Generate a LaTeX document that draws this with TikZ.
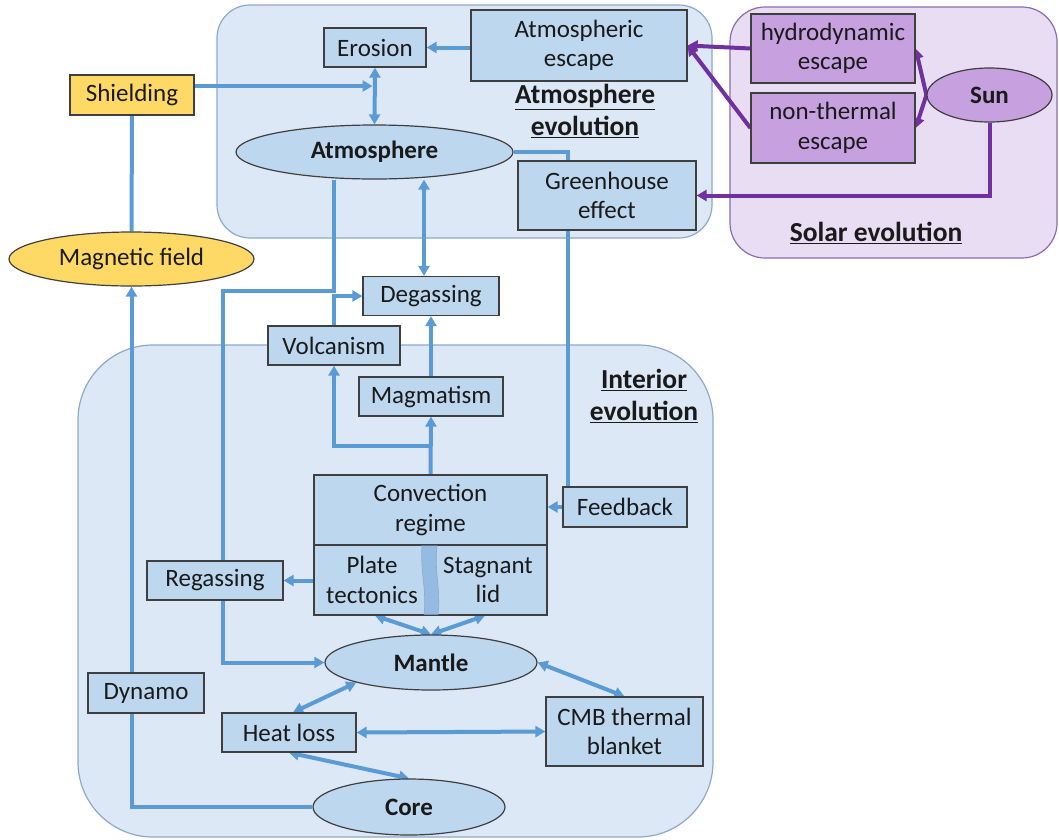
\documentclass[tikz,border=0pt]{standalone}
\usepackage{fontspec}
\setmainfont{Carlito}
\usetikzlibrary{arrows.meta,shapes.geometric,calc}
\pgfdeclarelayer{panel}
\pgfdeclarelayer{conn}
\pgfsetlayers{panel,conn,main}
\definecolor{panelfill}{HTML}{DCE8F5}
\definecolor{paneledge}{HTML}{8EA9C8}
\definecolor{nodefill}{HTML}{BDD7EE}
\definecolor{nodeedge}{HTML}{3F3F3F}
\definecolor{connblue}{HTML}{5B9BD5}
\definecolor{yelfill}{HTML}{FFD966}
\definecolor{solfill}{HTML}{E8DDF3}
\definecolor{soledge}{HTML}{8C6BB1}
\definecolor{purfill}{HTML}{C7A0E0}
\definecolor{purline}{HTML}{7030A0}
\definecolor{divfill}{HTML}{94BCE3}
\definecolor{txtcol}{HTML}{1A1A1A}
\begin{document}
\begin{tikzpicture}[x=1pt,y={(0pt,-1pt)},
  font=\fontsize{25}{29.5}\selectfont, text=txtcol,
  box/.style={draw=nodeedge, line width=1.2pt, fill=nodefill, rectangle, inner sep=0pt, align=center},
  oval/.style={draw=nodeedge, line width=1.2pt, fill=nodefill, ellipse, inner sep=0pt, font=\fontsize{25}{29.5}\selectfont\bfseries},
  ybox/.style={box, fill=yelfill},
  pbox/.style={box, fill=purfill},
  conn/.style={draw=connblue, line width=4pt},
  pconn/.style={draw=purline, line width=4pt},
  tip/.style={-{Triangle[length=10pt,width=11pt]}},
  dtip/.style={{Triangle[length=10pt,width=11pt]}-{Triangle[length=10pt,width=11pt]}},
  lbl/.style={inner sep=0pt, align=center, font=\fontsize{27.5}{32}\selectfont\bfseries},
  txt/.style={inner sep=0pt, align=center}
]
\useasboundingbox (0,0) rectangle (1059,839);

% panels
\begin{pgfonlayer}{panel}
\draw[fill=panelfill, draw=paneledge, line width=1.2pt, rounded corners=33pt] (217,5) rectangle (712,238);
\draw[fill=solfill, draw=soledge, line width=1.2pt, rounded corners=35pt] (730,7) rectangle (1057,258);
\draw[fill=panelfill, draw=paneledge, line width=1.2pt, rounded corners=75pt] (78,345) rectangle (713,837);
\end{pgfonlayer}

% nodes
\node[box, minimum width=102pt, minimum height=39pt] (eros) at (375,47.5) {Erosion};
\node[box, minimum width=216pt, minimum height=71pt] (atmesc) at (579,45.5) {Atmospheric\\escape};
\node[ybox, minimum width=124pt, minimum height=40pt] (shield) at (132,95) {Shielding};
\node[oval, minimum width=277pt, minimum height=54pt] (atm) at (374.5,152) {Atmosphere};
\node[oval, fill=yelfill, font=\fontsize{25}{29.5}\selectfont, minimum width=245pt, minimum height=54pt] (mag) at (131.5,259) {Magnetic field};
\node[pbox, minimum width=164pt, minimum height=69pt] (hydro) at (833,48.5) {hydrodynamic\\escape};
\node[pbox, minimum width=164pt, minimum height=70pt] (nonth) at (833,128) {non-thermal\\escape};
\node[oval, fill=purfill, minimum width=125pt, minimum height=54pt] (sun) at (989.5,95) {Sun};
\node[box, minimum width=178pt, minimum height=69pt] (green) at (607,195.5) {Greenhouse\\effect};
\node[box, minimum width=136pt, minimum height=39pt] (degas) at (431,296) {Degassing};
\node[box, minimum width=132pt, minimum height=39pt] (volc) at (334,345.5) {Volcanism};
\node[box, minimum width=144pt, minimum height=39pt] (magma) at (431,396.5) {Magmatism};
\node[box, minimum width=233pt, minimum height=70pt] (conv) at (430.5,510) {Convection\\regime};
\node[box, minimum width=233pt, minimum height=70pt] (lower) at (430.5,580) {};
\fill[divfill] (422,545.5) .. controls (420,570) and (427,592) .. (424,614.5) -- (438,614.5) .. controls (441,592) and (434,570) .. (437,545.5) -- cycle;
\draw[paneledge, line width=0.6pt] (422,545.5) .. controls (420,570) and (427,592) .. (424,614.5);
\draw[paneledge, line width=0.6pt] (437,545.5) .. controls (434,570) and (441,592) .. (438,614.5);
\node[txt] (plate) at (372,580) {Plate\\tectonics};
\node[txt] (stagn) at (488,580) {Stagnant\\lid};
\node[box, minimum width=124pt, minimum height=40pt] (feed) at (625,507) {Feedback};
\node[box, minimum width=136pt, minimum height=39pt] (regas) at (215,580.5) {Regassing};
\node[oval, minimum width=212pt, minimum height=55pt] (mantle) at (431,662.5) {Mantle};
\node[box, minimum width=116pt, minimum height=40pt] (dynamo) at (146,693) {Dynamo};
\node[box, minimum width=134pt, minimum height=39pt] (heat) at (289,732.5) {Heat loss};
\node[box, minimum width=157pt, minimum height=69pt] (cmb) at (624.5,731.5) {CMB thermal\\blanket};
\node[oval, minimum width=192pt, minimum height=56pt] (core) at (409,807) {Core};

% labels
\node[lbl] (atmlbl) at (585,111) {\underline{Atmosphere}\\\underline{evolution}};
\node[lbl] (intlbl) at (644,396) {\underline{Interior}\\\underline{evolution}};
\node[lbl] (sollbl) at (876,233) {\underline{Solar evolution}};

% helper coordinates
\coordinate (dg) at ($(degas.north)+(-7,0)$);
\coordinate (br) at ($(conv.north)!0.5!(magma.south)$);
\coordinate (fb) at ($(feed.north west)+(6,0)$);

\begin{pgfonlayer}{conn}
\draw[conn,tip] (atmesc.west |- eros.east) -- (eros.east);
\draw[conn,dtip] (eros.south) -- (atm.north);
\draw[conn,tip] ($(shield.east)+(0,-9)$) -- ($(shield.east -| eros.south)+(-2.5,-9)$);
\draw[conn] (shield.south) -- (mag.north);
\draw[conn,tip] (core.west) -| (mag.south);
\draw[conn,tip] (atm.south -| volc.north) -- ++(0,111) -| ($(mantle.west)+(-101,0)$) -- (mantle.west);
\draw[conn,tip] (volc.north) |- (degas.west);
\draw[conn,dtip] (dg |- atm.south) -- (dg);
\draw[conn,tip] (magma.north) -- (degas.south);
\draw[conn,tip] (conv.north) -- (magma.south);
\draw[conn,tip] (br) -| (volc.south);
\draw[conn] (atm.east) -| (fb);
\draw[conn,tip] (feed.west) -- (feed.west -| conv.east);
\draw[conn,tip] (lower.west |- regas.east) -- (regas.east);
\draw[conn,dtip] ($(lower.south -| plate)+(3,0)$) -- (mantle.north);
\draw[conn,dtip] ($(lower.south -| stagn)+(-3,0)$) -- (mantle.north);
\draw[conn,dtip] ($(heat.north)+(4,0)$) -- (mantle.-165);
\draw[conn,dtip] (heat.south) -- (core.north);
\draw[conn,dtip] (heat.east) -- (cmb.west);
\draw[conn,dtip] (mantle.east) -- (cmb.north);
\draw[pconn,tip] (hydro.west) -- (atmesc.east);
\draw[pconn,tip] (nonth.west) -- (atmesc.east);
\draw[pconn,tip] (sun.west) -- (hydro.east);
\draw[pconn,tip] (sun.west) -- (nonth.east);
\draw[pconn,tip] (sun.south) |- (green.east);
\end{pgfonlayer}
\end{tikzpicture}
\end{document}
